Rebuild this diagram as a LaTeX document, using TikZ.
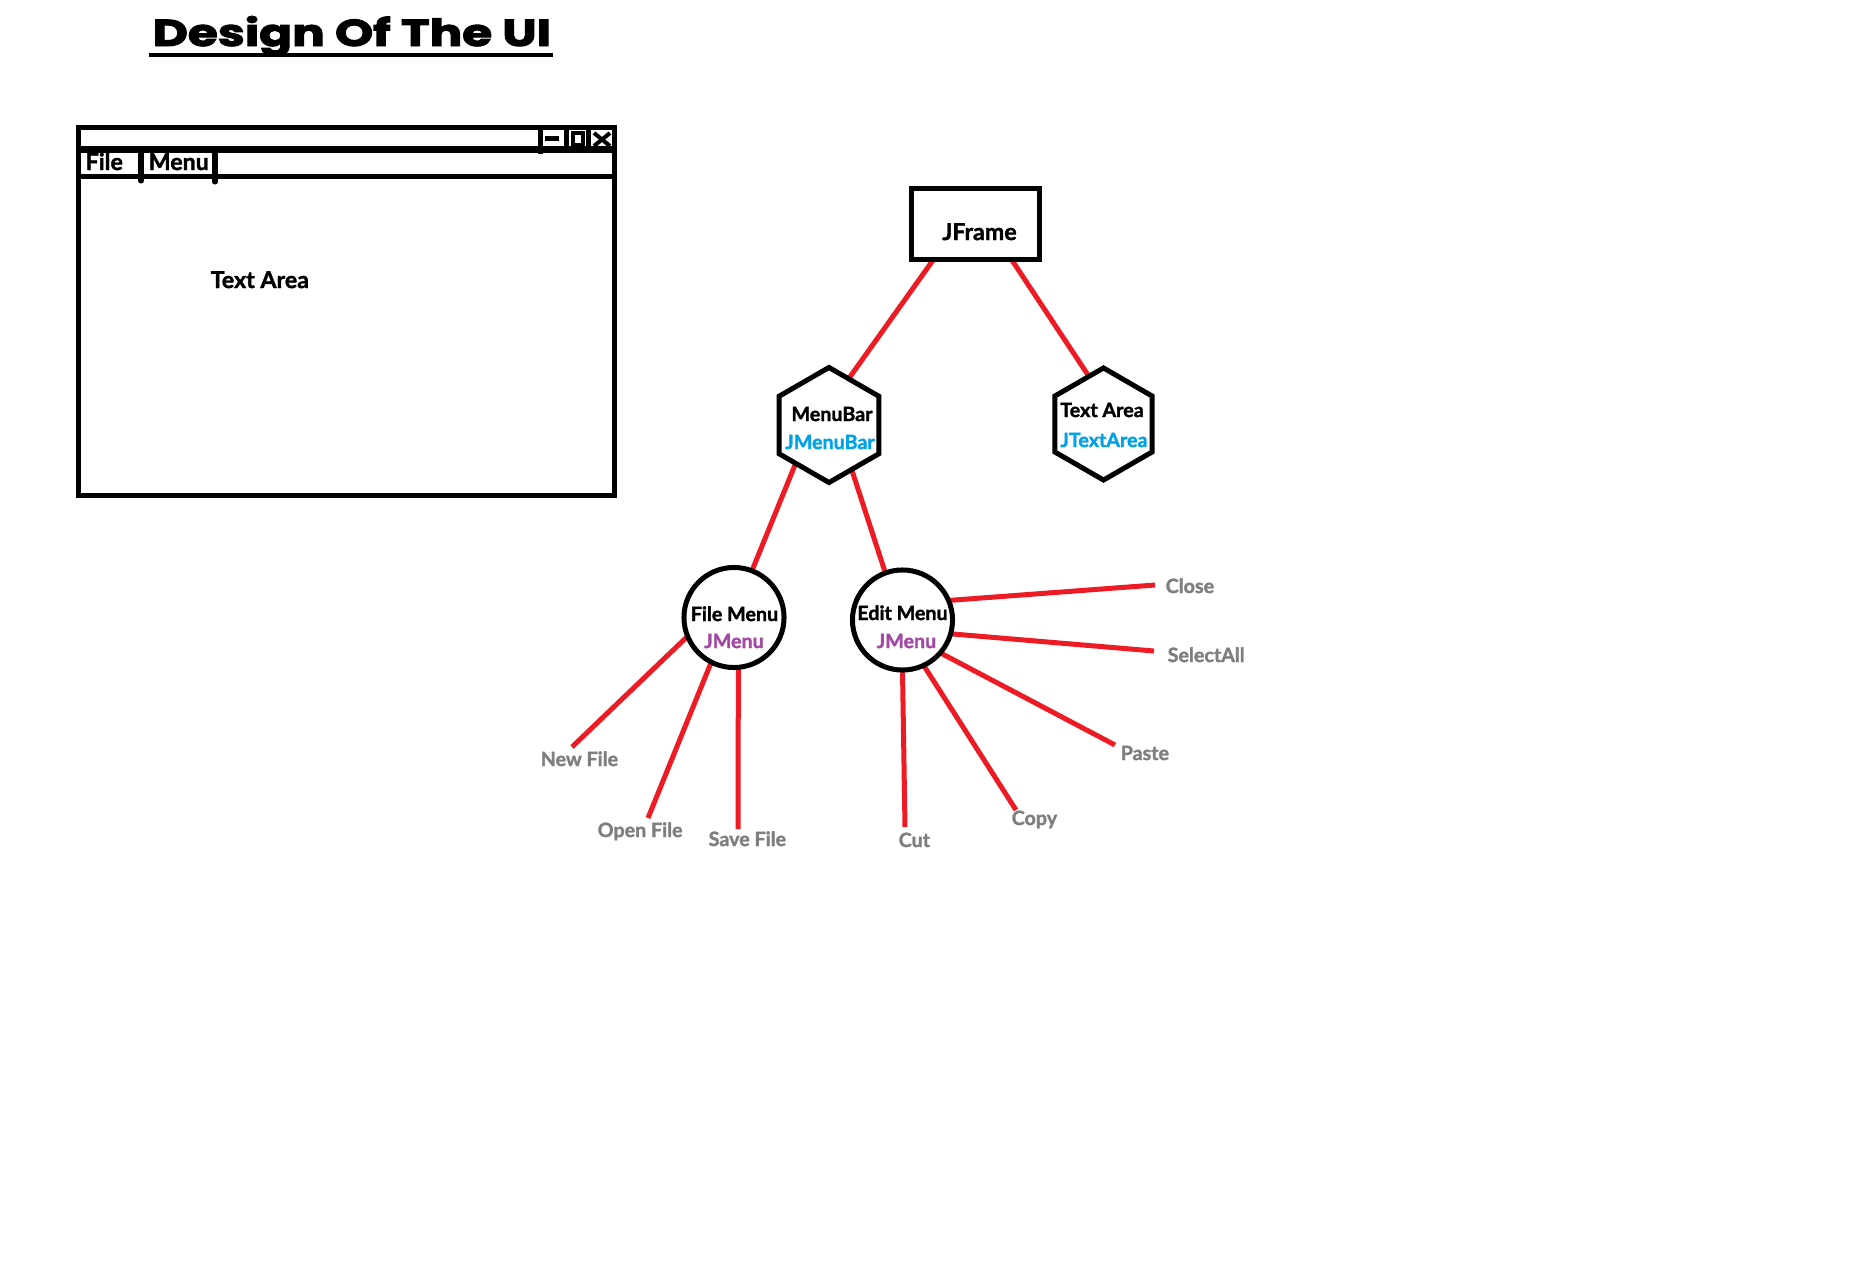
\documentclass[tikz,border=0pt]{standalone}
\usepackage{fontspec}
\setmainfont{Lato}[BoldFeatures={FakeBold=1.6}]
\newfontfamily\titlefont{Poppins}[BoldFeatures={FakeBold=2.5}]
\usetikzlibrary{shapes.geometric,calc,backgrounds}
\definecolor{paintred}{RGB}{237,28,36}
\definecolor{paintblue}{RGB}{0,162,232}
\definecolor{paintpurple}{RGB}{163,73,164}
\definecolor{paintgray}{RGB}{127,127,127}
\begin{document}
\begin{tikzpicture}[x=0.01cm,y=-0.01cm,
  blk/.style={draw=black, line width=0.05cm},
  conn/.style={draw=paintred, line width=0.05cm},
  hexnode/.style={regular polygon, regular polygon sides=6, shape border rotate=30,
    blk, fill=white, inner sep=0pt, outer sep=0pt, minimum size=#1},
  circnode/.style={circle, blk, fill=white, inner sep=0pt, outer sep=0pt, minimum size=1.0cm},
  bigtxt/.style={font=\fontsize{6.6pt}{8pt}\selectfont\bfseries, inner sep=0pt},
  treetxt/.style={font=\fontsize{5.6pt}{7pt}\selectfont\bfseries, inner sep=0pt, anchor=base},
  leaf/.style={treetxt, text=paintgray, anchor=base west}]
\useasboundingbox (0,0) rectangle (1853,1275);
\begin{scope}[on background layer]
\fill[white] (0,0) rectangle (1853,1275);
\end{scope}

% ---- title ----
\node[anchor=base west, inner sep=0pt] (title) at (152,46)
  {\resizebox{3.98cm}{0.30cm}{\titlefont\bfseries Design Of The UI}};
\draw[line width=0.035cm] (149,55) -- (553,55);

% ---- window sketch ----
\draw[blk] (78.5,127.5) rectangle (614,495);
\draw[draw=black, line width=0.07cm] (78.5,149) -- (614,149);
\draw[blk] (78.5,176) -- (614,176);
\draw[blk, line cap=round] (141,149) -- (141,181);
\draw[blk, line cap=round] (215,149) -- (215,182);
\draw[blk] (540,127.5) -- (540,154);
\draw[blk] (566.5,127.5) -- (566.5,149);
\draw[blk] (588.5,127.5) -- (588.5,149);
\draw[blk] (545,138.5) -- (559,138.5);
\draw[draw=black, line width=0.04cm] (573,133) rectangle (583,145);
\draw[draw=black, line width=0.04cm] (594,133) -- (610,146);
\draw[draw=black, line width=0.04cm] (594,146) -- (610,133);
\node[bigtxt, anchor=base west] (wfile) at (85,170) {File};
\node[bigtxt, anchor=base west] (wmenu) at (148,170) {Menu};
\node[bigtxt, anchor=base west] (wtext) at (210,288) {Text Area};

% ---- tree nodes ----
\node[blk, fill=white, inner sep=0pt, outer sep=0pt, minimum width=1.28cm, minimum height=0.71cm] (jf) at (975.5,224) {};
\node[bigtxt, anchor=base] (jft) at (979.5,240) {JFrame};

\node[hexnode=1.15cm] (mb) at (829,425) {};
\node[treetxt] (mbt) at (832,421) {MenuBar};
\node[treetxt, text=paintblue] (mbj) at (830,449) {JMenuBar};

\node[hexnode=1.12cm] (ta) at (1103.5,424) {};
\node[treetxt] (tat) at (1102,417) {Text Area};
\node[treetxt, text=paintblue] (taj) at (1104,447) {JTextArea};

\node[circnode] (fm) at (734,617.5) {};
\node[treetxt] (fmt) at (734.5,621) {File Menu};
\node[treetxt, text=paintpurple] (fmj) at (734,648) {JMenu};

\node[circnode] (em) at (902.5,620) {};
\node[treetxt] (emt) at (902.5,620) {Edit Menu};
\node[treetxt, text=paintpurple] (emj) at (906.5,648) {JMenu};

% ---- leaves ----
\coordinate (nfE) at (572,747);  \node[leaf] (nf) at (540,766) {New File};
\coordinate (ofE) at (648,818);  \node[leaf] (of) at (597,837) {Open File};
\coordinate (sfE) at (738,829);  \node[leaf] (sf) at (708,846) {Save File};
\coordinate (ctE) at (905,827);  \node[leaf] (ct) at (898,847) {Cut};
\coordinate (cpE) at (1016,810); \node[leaf] (cp) at (1011,825) {Copy};
\coordinate (psE) at (1115,745); \node[leaf] (ps) at (1120,760) {Paste};
\coordinate (saE) at (1154,651); \node[leaf] (sa) at (1167,662) {SelectAll};
\coordinate (clE) at (1155,585); \node[leaf] (cl) at (1165,593) {Close};

% ---- connectors ----
\begin{scope}[on background layer]
\draw[conn] ([xshift=0.22cm]jf.south west) -- (mb.67.6);
\draw[conn] ([xshift=1.00cm]jf.south west) -- (ta.107.9);
\draw[conn] (mb.229.4) -- (fm.69.2);
\draw[conn] (mb.297) -- (em.110.3);
\draw[conn] (fm.202.5) -- (nfE);
\draw[conn] (fm.243.2) -- (ofE);
\draw[conn] (fm.275.7) -- (sfE);
\draw[conn] (em.23) -- (clE);
\draw[conn] (em.-16) -- (saE);
\draw[conn] (em.-41.2) -- (psE);
\draw[conn] (em.-65.3) -- (cpE);
\draw[conn] (em.-90.5) -- (ctE);
\end{scope}
\end{tikzpicture}
\end{document}
